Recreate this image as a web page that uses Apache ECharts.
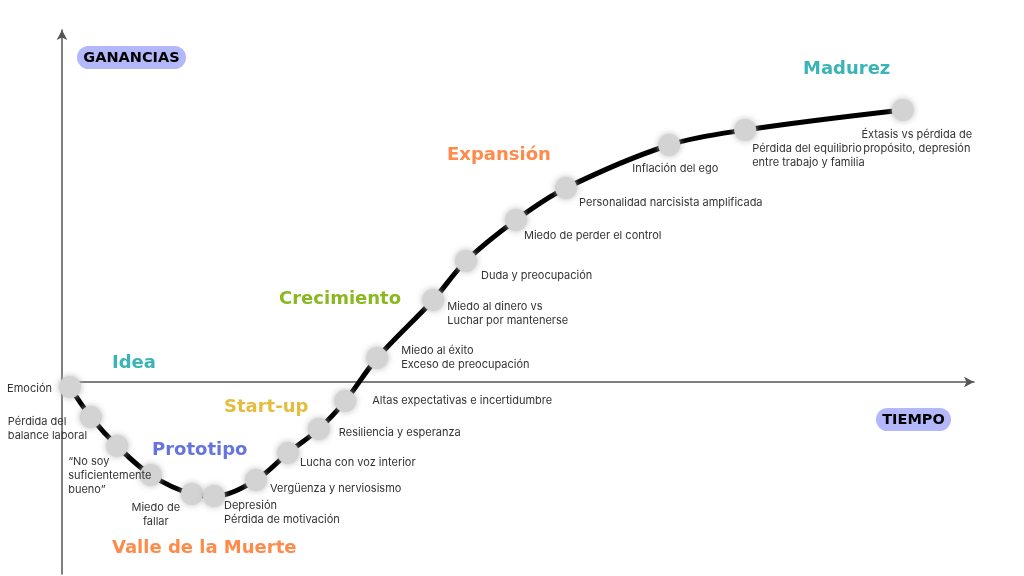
<!DOCTYPE html>
<html>
<head>
<meta charset="utf-8">
<script src="https://cdn.jsdelivr.net/npm/echarts@6/dist/echarts.min.js"></script>
<style>html,body{margin:0;padding:0;background:#fff;}#c{width:1024px;height:576px;}</style>
</head>
<body>
<div id="c"></div>
<script>
// ---- data ----
const timeValues = [1, 3.6, 6.9, 11.1, 16.25, 19, 24.25, 28.25, 32.1, 35.4, 39.4, 46.4, 50.5, 56.75, 63, 75.9, 85.4, 105.1];
const gainValues = [-1.25, -8.75, -16, -23.25, -28, -28.5, -24.5, -17.75, -11.75, -4.75, 6, 20.5, 30.25, 40.5, 48.5, 59.25, 63, 68];
const pointLabels = [
  'Emoción',
  'Pérdida del\nbalance laboral',
  '“No soy\nsuficientemente\nbueno”',
  'Miedo de\nfallar',
  '',
  'Depresión\nPérdida de motivación',
  'Vergüenza y nerviosismo',
  'Lucha con voz interior',
  'Resiliencia y esperanza',
  'Altas expectativas e incertidumbre',
  'Miedo al éxito\nExceso de preocupación',
  'Miedo al dinero vs\nLuchar por mantenerse',
  'Duda y preocupación',
  'Miedo de perder el control',
  'Personalidad narcisista amplificada',
  'Inflación del ego',
  'Pérdida del equilibrio\nentre trabajo y familia',
  'Éxtasis vs pérdida de\npropósito, depresión'
];
const phaseNames = ['Idea', 'Start-up', 'Prototipo', 'Valle de la Muerte', 'Crecimiento', 'Expansión', 'Madurez'];
const axisTitles = ['GANANCIAS', 'TIEMPO'];

// ---- styles / layout ----
const labelLayout = [
  {dx:-18, dy:2, align:'right'},
  {dx:-83, dy:12, align:'left'},
  {dx:-49, dy:30, align:'left'},
  {dx:5, dy:40, align:'center'},
  {dx:0, dy:0, align:'left'},
  {dx:10, dy:17, align:'left'},
  {dx:14, dy:9, align:'left'},
  {dx:12, dy:10, align:'left'},
  {dx:20, dy:4, align:'left'},
  {dx:27, dy:0, align:'left'},
  {dx:24, dy:0, align:'left'},
  {dx:14, dy:14, align:'left'},
  {dx:15, dy:15, align:'left'},
  {dx:8, dy:16, align:'left'},
  {dx:13, dy:15, align:'left'},
  {dx:-37, dy:24, align:'left'},
  {dx:7, dy:26, align:'left'},
  {dx:14, dy:32, align:'center'}
];
const phaseStyle = [
  {x:112, y:363, color:'#3bb4b8'},
  {x:224, y:407, color:'#e4bd3f'},
  {x:152, y:450, color:'#6675de'},
  {x:112, y:548, color:'#ff8a4a'},
  {x:279, y:299, color:'#8ab81f'},
  {x:447, y:155, color:'#ff8a4a'},
  {x:803, y:69, color:'#3bb4b8'}
];
const pillStyle = [
  {x:77, y:46, w:109, h:23},
  {x:876, y:408, w:75, h:23}
];

const textFont = 'Inter';
const graphics = [];
phaseNames.forEach((n, i) => {
  const s = phaseStyle[i];
  graphics.push({type:'text', x:s.x, y:s.y, z:10, style:{text:n, fill:s.color, font:'bold 18px "DejaVu Sans"', textVerticalAlign:'middle', textAlign:'left'}});
});
axisTitles.forEach((t, i) => {
  const s = pillStyle[i];
  graphics.push({type:'group', x:s.x, y:s.y, z:10, children:[
    {type:'rect', shape:{x:0, y:0, width:s.w, height:s.h, r:s.h/2}, style:{fill:'#b3b8fb'}},
    {type:'text', x:s.w/2, y:s.h/2 + 1, style:{text:t, fill:'#000', font:'bold 14.5px "DejaVu Sans"', textAlign:'center', textVerticalAlign:'middle'}}
  ]});
});

const chart = echarts.init(document.getElementById('c'));
chart.setOption({
  animation: false,
  backgroundColor: '#fff',
  grid: {left: 62, right: 50, top: 30, bottom: 2},
  xAxis: {
    type: 'value', min: 0, max: 114,
    axisLine: {onZero: true, lineStyle: {color: '#555', width: 1.5}, symbol: ['none', 'arrow'], symbolSize: [8, 10]},
    axisTick: {show: false}, axisLabel: {show: false}, splitLine: {show: false}
  },
  yAxis: {
    type: 'value', min: -48, max: 88,
    axisLine: {show: true, onZero: true, lineStyle: {color: '#555', width: 1.5}, symbol: ['none', 'arrow'], symbolSize: [8, 10]},
    axisTick: {show: false}, axisLabel: {show: false}, splitLine: {show: false}
  },
  graphic: graphics,
  series: [{
    type: 'line',
    smooth: 0.35,
    lineStyle: {color: '#000', width: 5},
    symbol: 'circle',
    symbolSize: 22,
    itemStyle: {color: '#d3d3d3', shadowBlur: 6, shadowColor: 'rgba(180,180,180,0.9)'},
    emphasis: {disabled: true},
    data: timeValues.map((t, i) => ({
      value: [t, gainValues[i]],
      label: {
        show: pointLabels[i] !== '',
        formatter: pointLabels[i],
        position: 'inside',
        offset: [labelLayout[i].dx, labelLayout[i].dy],
        align: labelLayout[i].align,
        verticalAlign: 'middle',
        color: '#333',
        fontSize: 11,
        lineHeight: 14,
        fontFamily: textFont
      }
    }))
  }]
});
</script>
</body>
</html>
